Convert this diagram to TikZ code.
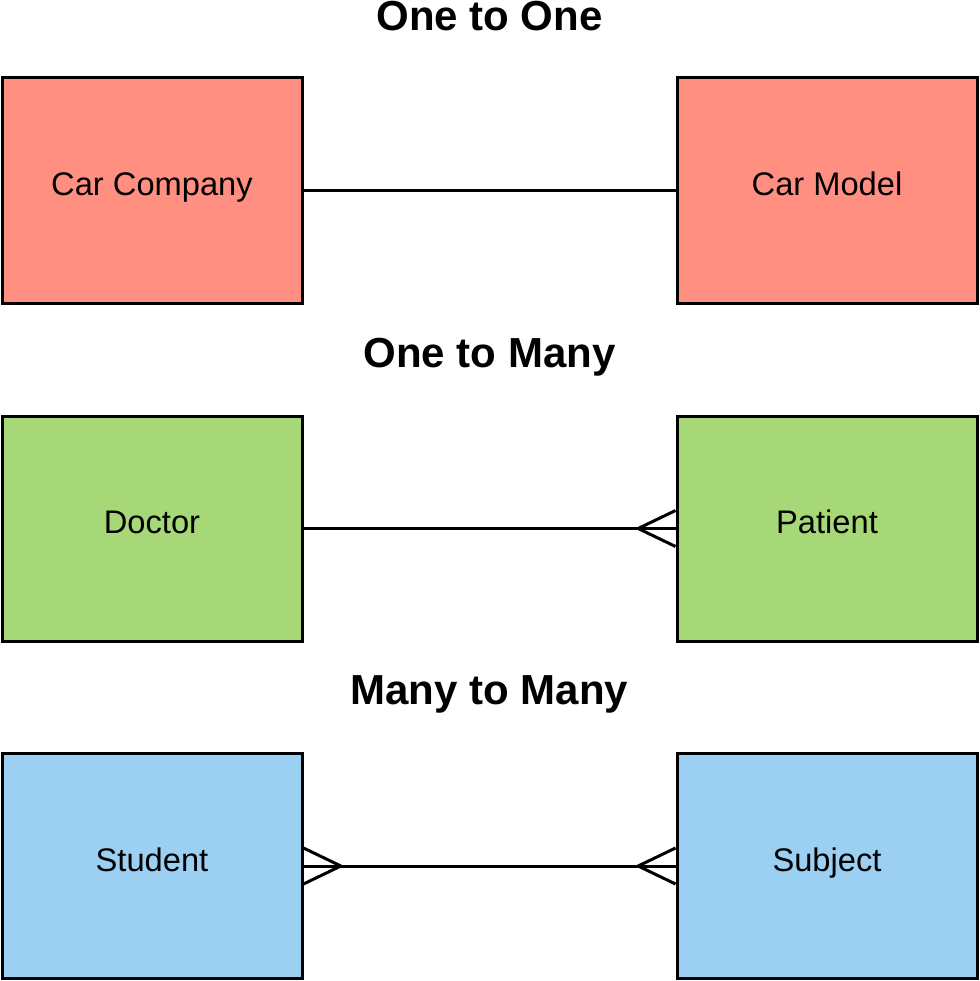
\documentclass[tikz,border=0pt]{standalone}
\usepackage{fontspec}
\setmainfont{Liberation Sans}
\begin{document}
\begin{tikzpicture}[x=0.75pt,y=-0.75pt,
  ent/.style={draw=black,line width=2.25pt,minimum width=225pt,minimum height=168.75pt,inner sep=0pt,text height=1.02em,text depth=0.2em,font=\fontsize{24.5}{28}\selectfont},
  ttl/.style={font=\bfseries\fontsize{31.5}{36}\selectfont,text height=0.72em,text depth=0.2em},
  con/.style={line width=2.25pt},
  red/.style={fill={rgb,255:red,255;green,143;blue,128}},
  grn/.style={fill={rgb,255:red,166;green,216;blue,119}},
  blu/.style={fill={rgb,255:red,155;green,208;blue,242}}]
\useasboundingbox (0,0) rectangle (979,981);
\node[ttl] (t1) at (489.5,27) {One to One};
\node[ttl] (t2) at (489.5,364) {One to Many};
\node[ttl] (t3) at (489.5,701) {Many to Many};
\node[ent,red] (a1) at (152,190.5) {Car Company};
\node[ent,red] (b1) at (827,190.5) {Car Model};
\node[ent,grn] (a2) at (152,528.5) {Doctor};
\node[ent,grn] (b2) at (827,528.5) {Patient};
\node[ent,blu] (a3) at (152,866) {Student};
\node[ent,blu] (b3) at (827,866) {Subject};
\draw[con] (a1.east) -- (b1.west);
\draw[con] (a2.east) -- (b2.west);
\draw[con] (a3.east) -- (b3.west);
\coordinate (p2) at ([xshift=-28pt]b2.west);
\draw[con] ([yshift=13.5pt]b2.west) -- (p2) -- ([yshift=-13.5pt]b2.west);
\coordinate (p3) at ([xshift=-28pt]b3.west);
\draw[con] ([yshift=13.5pt]b3.west) -- (p3) -- ([yshift=-13.5pt]b3.west);
\coordinate (q3) at ([xshift=28pt]a3.east);
\draw[con] ([yshift=13.5pt]a3.east) -- (q3) -- ([yshift=-13.5pt]a3.east);
\end{tikzpicture}
\end{document}
